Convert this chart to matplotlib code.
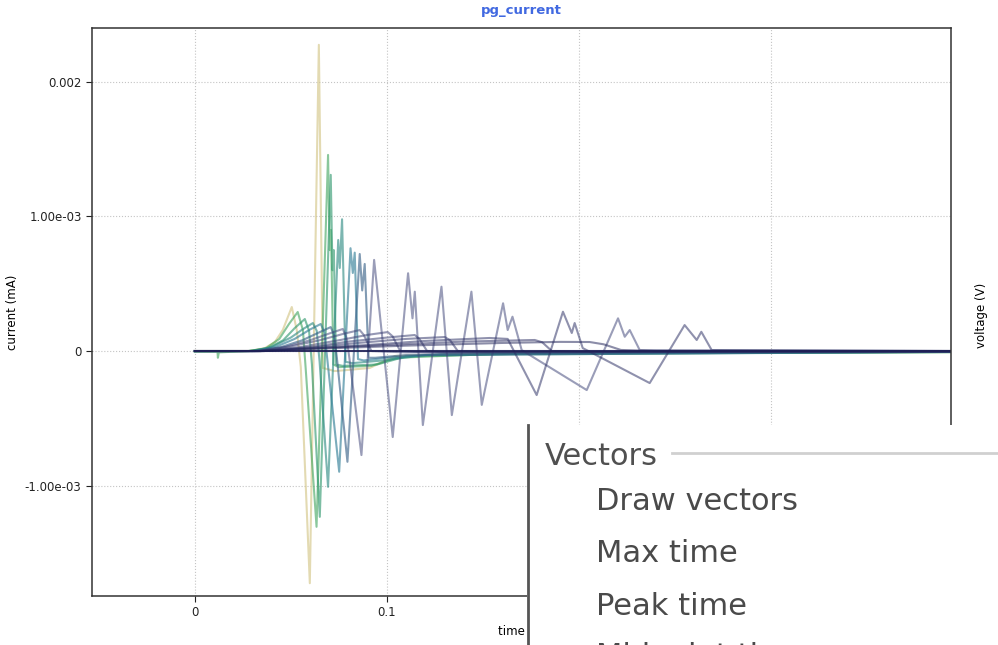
import numpy as np
import matplotlib
matplotlib.use("Agg")
import matplotlib.pyplot as plt
from matplotlib.colors import LinearSegmentedColormap
from matplotlib.patches import Rectangle
from matplotlib.lines import Line2D

# current traces (time in s, current in 1e-3 mA)
time_0 = [0, 0.0286, 0.0365, 0.0417, 0.0458, 0.0505, 0.0531, 0.0552, 0.0599, 0.0646, 0.0667, 0.0729, 0.0911, 0.1042, 0.1589, 0.40]
curr_0 = [0, 0, 0.022, 0.067, 0.156, 0.327, 0.156, -0.119, -1.725, 2.275, -0.126, -0.149, -0.126, -0.037, -0.015, -0.007]

time_1 = [0, 0.0118, 0.012, 0.0125, 0.028, 0.037, 0.044, 0.049, 0.0536, 0.0563, 0.0578, 0.0634, 0.0694, 0.0703, 0.0709, 0.0722, 0.075, 0.092, 0.105, 0.16, 0.40]
curr_1 = [-0.005, -0.005, -0.05, -0.01, 0, 0.02, 0.09, 0.2, 0.29, 0.156, -0.141, -1.306, 1.457, 0.75, 0.9, -0.1, -0.12, -0.11, -0.05, -0.02, -0.008]

time_2 = [0, 0.028, 0.038, 0.046, 0.052, 0.0573, 0.0595, 0.061, 0.0651, 0.0708, 0.0717, 0.0724, 0.0736, 0.077, 0.095, 0.11, 0.17, 0.40]
curr_2 = [0, 0, 0.02, 0.08, 0.17, 0.238, 0.15, -0.1, -1.232, 1.309, 0.6, 0.75, -0.1, -0.11, -0.1, -0.04, -0.02, -0.008]

time_3 = [0, 0.03, 0.04, 0.05, 0.056, 0.0615, 0.0635, 0.065, 0.0694, 0.0747, 0.0755, 0.0767, 0.0785, 0.082, 0.098, 0.12, 0.40]
curr_3 = [0, 0, 0.03, 0.1, 0.16, 0.208, 0.15, -0.08, -1.009, 0.825, 0.617, 0.979, -0.08, -0.09, -0.07, -0.03, -0.006]

time_4 = [0, 0.031, 0.042, 0.052, 0.06, 0.0656, 0.0675, 0.069, 0.0752, 0.0811, 0.0823, 0.0833, 0.085, 0.088, 0.1, 0.13, 0.40]
curr_4 = [0, 0, 0.03, 0.09, 0.16, 0.201, 0.14, -0.06, -0.897, 0.764, 0.58, 0.731, -0.06, -0.07, -0.05, -0.02, -0.005]

time_5 = [0, 0.032, 0.045, 0.056, 0.065, 0.0708, 0.0725, 0.074, 0.0795, 0.0859, 0.0872, 0.0885, 0.0905, 0.094, 0.11, 0.40]
curr_5 = [0, 0, 0.03, 0.08, 0.14, 0.178, 0.12, -0.05, -0.823, 0.721, 0.45, 0.647, -0.05, -0.05, -0.03, -0.005]

time_6 = [0, 0.033, 0.047, 0.06, 0.07, 0.0771, 0.079, 0.0805, 0.0868, 0.0934, 0.1031, 0.1111, 0.1134, 0.1146, 0.1188,
          0.1285, 0.1339, 0.1441, 0.1495, 0.1606, 0.1630, 0.1655, 0.1703, 0.2042, 0.2205, 0.2240, 0.2266, 0.2318, 0.40]
curr_6 = [0, 0, 0.03, 0.08, 0.13, 0.164, 0.1, -0.05, -0.773, 0.677, -0.639, 0.578, 0.243, 0.441, -0.55,
          0.478, -0.476, 0.441, -0.40, 0.355, 0.156, 0.255, 0.007, -0.29, 0.243, 0.106, 0.156, 0.007, 0]

time_7 = [0, 0.034, 0.05, 0.065, 0.078, 0.0859, 0.088, 0.092, 0.11, 0.40]
curr_7 = [0, 0, 0.035, 0.08, 0.13, 0.156, 0.12, 0.0, -0.01, -0.003]

time_8 = [0, 0.034, 0.055, 0.075, 0.09, 0.1005, 0.103, 0.107, 0.12, 0.40]
curr_8 = [0, 0, 0.03, 0.08, 0.12, 0.141, 0.11, 0.0, -0.01, -0.003]

time_9 = [0, 0.035, 0.06, 0.08, 0.1, 0.1146, 0.117, 0.121, 0.13, 0.40]
curr_9 = [0, 0, 0.03, 0.07, 0.1, 0.119, 0.09, 0.0, -0.01, -0.003]

time_10 = [0, 0.035, 0.06, 0.085, 0.11, 0.1302, 0.133, 0.137, 0.15, 0.40]
curr_10 = [0, 0, 0.025, 0.06, 0.09, 0.104, 0.08, 0.0, -0.005, -0.002]

time_11 = [0, 0.034, 0.06, 0.09, 0.12, 0.1536, 0.163, 0.1781, 0.1918, 0.1964, 0.1979, 0.2021, 0.237, 0.2552, 0.2615, 0.2639, 0.2693, 0.40]
curr_11 = [0, 0, 0.02, 0.045, 0.075, 0.097, 0.09, -0.327, 0.292, 0.134, 0.208, 0.022, -0.238, 0.193, 0.082, 0.143, 0.007, 0]

time_12 = [0, 0.036, 0.07, 0.1, 0.14, 0.1771, 0.181, 0.186, 0.2, 0.40]
curr_12 = [0, 0, 0.025, 0.045, 0.07, 0.082, 0.065, 0.0, -0.005, -0.002]

time_13 = [0, 0.036, 0.07, 0.11, 0.16, 0.19, 0.2057, 0.213, 0.222, 0.24, 0.40]
curr_13 = [0, 0, 0.02, 0.04, 0.06, 0.068, 0.067, 0.05, 0.008, 0, 0]

time_14 = [0, 0.40]
curr_14 = [0, 0]

traces = [(time_0, curr_0), (time_1, curr_1), (time_2, curr_2), (time_3, curr_3), (time_4, curr_4),
          (time_5, curr_5), (time_6, curr_6), (time_7, curr_7), (time_8, curr_8), (time_9, curr_9),
          (time_10, curr_10), (time_11, curr_11), (time_12, curr_12), (time_13, curr_13), (time_14, curr_14)]

x_ticks = [0, 0.1, 0.2, 0.3]
x_labels = ["0", "0.1", "0.2", "0.3"]
y_ticks = [0.002, 0.001, 0, -0.001]
y_labels = ["0.002", "1.00e-03", "0", "-1.00e-03"]

menu_items = ["Draw vectors", "Max time", "Peak time"]
menu_cut = "Midpoint time"

W, H = 998, 645
fig = plt.figure(figsize=(W / 100, H / 100), dpi=100)
ax = fig.add_axes([92 / W, 1 - 596 / H, (951 - 92) / W, (596 - 28) / H])

cmap = LinearSegmentedColormap.from_list(
    "pg", [(0.0, "#d2c483"), (0.08, "#30a25b"), (0.28, "#2a7d94"), (0.42, "#3d4478"), (1.0, "#1e1f55")])
n = len(traces)
for k, (t, c) in enumerate(traces):
    alpha = 0.9 if k == n - 1 else (0.62 if k < 6 else 0.52)
    ax.plot(t, np.array(c) * 1e-3, color=cmap(k / (n - 1)), lw=1.5, alpha=alpha)

ax.set_xlim(-0.0536, 0.394)
ax.set_ylim(-0.00182, 0.0024)
ax.set_xticks(x_ticks, x_labels)
ax.set_yticks(y_ticks, y_labels)
ax.tick_params(labelsize=8.5, colors="#222222", length=4)
ax.grid(True, linestyle=":", color="#c4c4c4", lw=0.8)
for s in ax.spines.values():
    s.set_color("#333333")
    s.set_linewidth(1.1)
ax.set_xlabel("time (s)", fontsize=8.5)
ax.set_ylabel("current (mA)", fontsize=8.5)
ax.set_title("pg_current", fontsize=9.5, fontweight="bold", color="#4169e1", pad=10)

fig.text(981 / W, 1 - 315 / H, "voltage (V)", rotation=90, fontsize=8.5, ha="center", va="center")

# settings panel lying over the lower right part of the screenshot
fig.add_artist(Rectangle((527 / W, 0), 1 - 527 / W, 220 / H, transform=fig.transFigure,
                         facecolor="white", edgecolor="none", zorder=10))
fig.add_artist(Line2D([528 / W, 528 / W], [0, 220 / H], transform=fig.transFigure,
                      color="#555555", lw=2, zorder=11))
fig.add_artist(Line2D([672 / W, 1], [1 - 453 / H, 1 - 453 / H], transform=fig.transFigure,
                      color="#d0d0d0", lw=2, zorder=11))
fig.text(545 / W, 1 - 465 / H, "Vectors", fontsize=22, color="#505050", va="baseline", zorder=12)
for j, item in enumerate(menu_items):
    fig.text(596 / W, 1 - (510 + 52.5 * j) / H, item, fontsize=22, color="#4a4a4a", va="baseline", zorder=12)
# next menu entry, only the top of it shows at the bottom edge
fig.text(596 / W, 1 - 665 / H, menu_cut, fontsize=22, color="#4a4a4a", va="baseline", zorder=12)

fig.savefig("out.png", dpi=100)
